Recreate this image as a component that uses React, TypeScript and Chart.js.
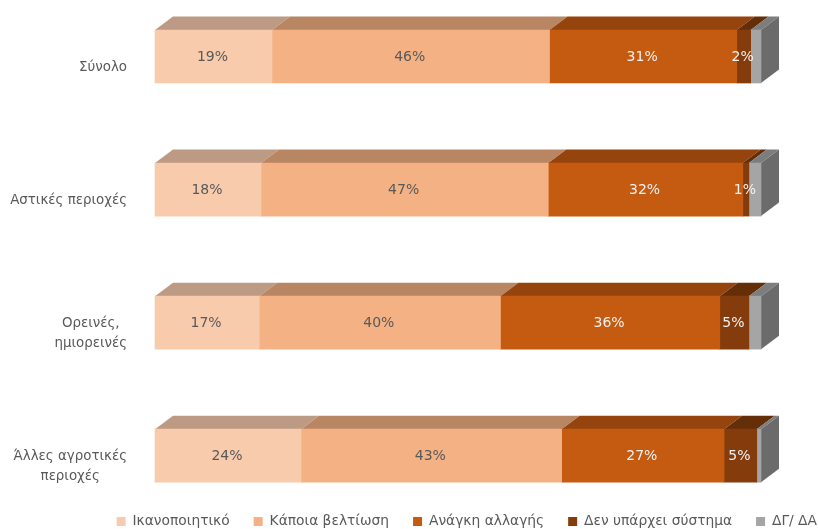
import React, { useEffect, useRef } from "react";
import { Chart, registerables } from "chart.js";

Chart.register(...registerables);

const categories: string[][] = [
  ["Σύνολο"],
  ["Αστικές περιοχές"],
  ["Ορεινές,", "ημιορεινές"],
  ["Άλλες αγροτικές", "περιοχές"],
];
const satisfactory = [19.3, 17.5, 17.2, 24.1];
const someImprovement = [45.8, 47.4, 39.8, 43.0];
const needChange = [30.9, 32.1, 36.2, 26.8];
const noSystem = [2.3, 1.0, 4.8, 5.4];
const dkNa = [1.7, 2.0, 2.0, 0.7];

const FONT = '"DejaVu Sans", sans-serif';
const TEXT = "#595959";

const seriesDefs = [
  { label: "Ικανοποιητικό", data: satisfactory, color: "#F8CBAD", top: "#BC9A83", side: "#A28570", text: "#595959", show: true },
  { label: "Κάποια βελτίωση", data: someImprovement, color: "#F4B183", top: "#B98663", side: "#9F7355", text: "#595959", show: true },
  { label: "Ανάγκη αλλαγής", data: needChange, color: "#C55A11", top: "#96440D", side: "#80390B", text: "#F2F2F2", show: true },
  { label: "Δεν υπάρχει σύστημα", data: noSystem, color: "#843C0C", top: "#642E09", side: "#562708", text: "#F2F2F2", show: true },
  { label: "ΔΓ/ ΔΑ", data: dkNa, color: "#A5A5A5", top: "#7D7D7D", side: "#6B6B6B", text: "#595959", show: false },
];

const DX = 18;
const DY = 13.5;
const LEGEND_PADDING = 24;

const bars3d = {
  id: "bars3d",
  afterLayout(chart: any) {
    const lg = chart.legend;
    if (!lg) return;
    lg.top = 529 - 14.5 - LEGEND_PADDING;
    lg.bottom = 529;
    lg.height = lg.bottom - lg.top;
    lg.right = 817 + LEGEND_PADDING;
  },
  beforeDatasetsDraw(chart: any) {
    const { ctx } = chart;
    ctx.save();
    seriesDefs.forEach((s, i) => {
      const meta = chart.getDatasetMeta(i);
      meta.data.forEach((bar: any) => {
        const x0 = Math.min(bar.x, bar.base);
        const x1 = Math.max(bar.x, bar.base);
        const t = bar.y - bar.height / 2;
        const b = bar.y + bar.height / 2;
        ctx.fillStyle = s.top;
        ctx.beginPath();
        ctx.moveTo(x0, t);
        ctx.lineTo(x0 + DX, t - DY);
        ctx.lineTo(x1 + DX, t - DY);
        ctx.lineTo(x1, t);
        ctx.closePath();
        ctx.fill();
        if (i === seriesDefs.length - 1) {
          ctx.fillStyle = s.side;
          ctx.beginPath();
          ctx.moveTo(x1, t);
          ctx.lineTo(x1 + DX, t - DY);
          ctx.lineTo(x1 + DX, b - DY);
          ctx.lineTo(x1, b);
          ctx.closePath();
          ctx.fill();
        }
      });
    });
    ctx.restore();
  },
  afterDatasetsDraw(chart: any) {
    const { ctx } = chart;
    ctx.save();
    ctx.textBaseline = "middle";
    ctx.font = `14px ${FONT}`;
    seriesDefs.forEach((s, i) => {
      if (!s.show) return;
      chart.getDatasetMeta(i).data.forEach((bar: any, j: number) => {
        ctx.fillStyle = s.text;
        ctx.textAlign = "center";
        ctx.fillText(`${Math.round(s.data[j])}%`, (bar.x + bar.base) / 2 - 1, bar.y + 0.5);
      });
    });
    const yScale = chart.scales.y;
    ctx.fillStyle = TEXT;
    ctx.font = `13.4px ${FONT}`;
    categories.forEach((lines, j) => {
      const cy = yScale.getPixelForValue(j) + 11;
      const w = Math.max(...lines.map((l) => ctx.measureText(l).width));
      const cx = 127 - w / 2;
      lines.forEach((l, k) => {
        ctx.fillText(l, cx, cy + (k - (lines.length - 1) / 2) * 20);
      });
    });
    ctx.restore();
  },
};

const hiddenAxis = { grid: { display: false }, border: { display: false }, ticks: { display: false } };

export default function App() {
  const ref = useRef<HTMLCanvasElement>(null);
  useEffect(() => {
    if (!ref.current) return;
    const chart = new Chart(ref.current, {
      type: "bar",
      data: {
        labels: categories,
        datasets: seriesDefs.map((s) => ({
          label: s.label,
          data: s.data,
          backgroundColor: s.color,
          borderWidth: 0,
          barThickness: 53,
          clip: false as any,
        })),
      },
      options: {
        indexAxis: "y",
        responsive: false,
        animation: false,
        layout: { padding: { left: 0, right: 0, top: 56.5, bottom: 25.5 } },
        scales: {
          x: { stacked: true, display: false, min: 0, max: 100 },
          y: {
            ...hiddenAxis,
            stacked: true,
            offset: false,
            afterFit(s: any) { s.width = 155; },
          },
          yRight: {
            ...hiddenAxis,
            type: "linear",
            position: "right",
            afterFit(s: any) { s.width = 57; },
          },
        },
        plugins: {
          tooltip: { enabled: false },
          legend: {
            position: "bottom",
            align: "end",
            labels: {
              boxWidth: 9,
              boxHeight: 9,
              padding: LEGEND_PADDING,
              color: TEXT,
              font: { family: FONT, size: 13.8 },
            },
          },
        },
      },
      plugins: [bars3d],
    } as any);
    return () => chart.destroy();
  }, []);
  return (
    <div style={{ position: "fixed", left: 0, top: 0, width: 818, height: 529, background: "#fff" }}>
      <canvas ref={ref} width={818} height={529} style={{ display: "block" }} />
    </div>
  );
}
